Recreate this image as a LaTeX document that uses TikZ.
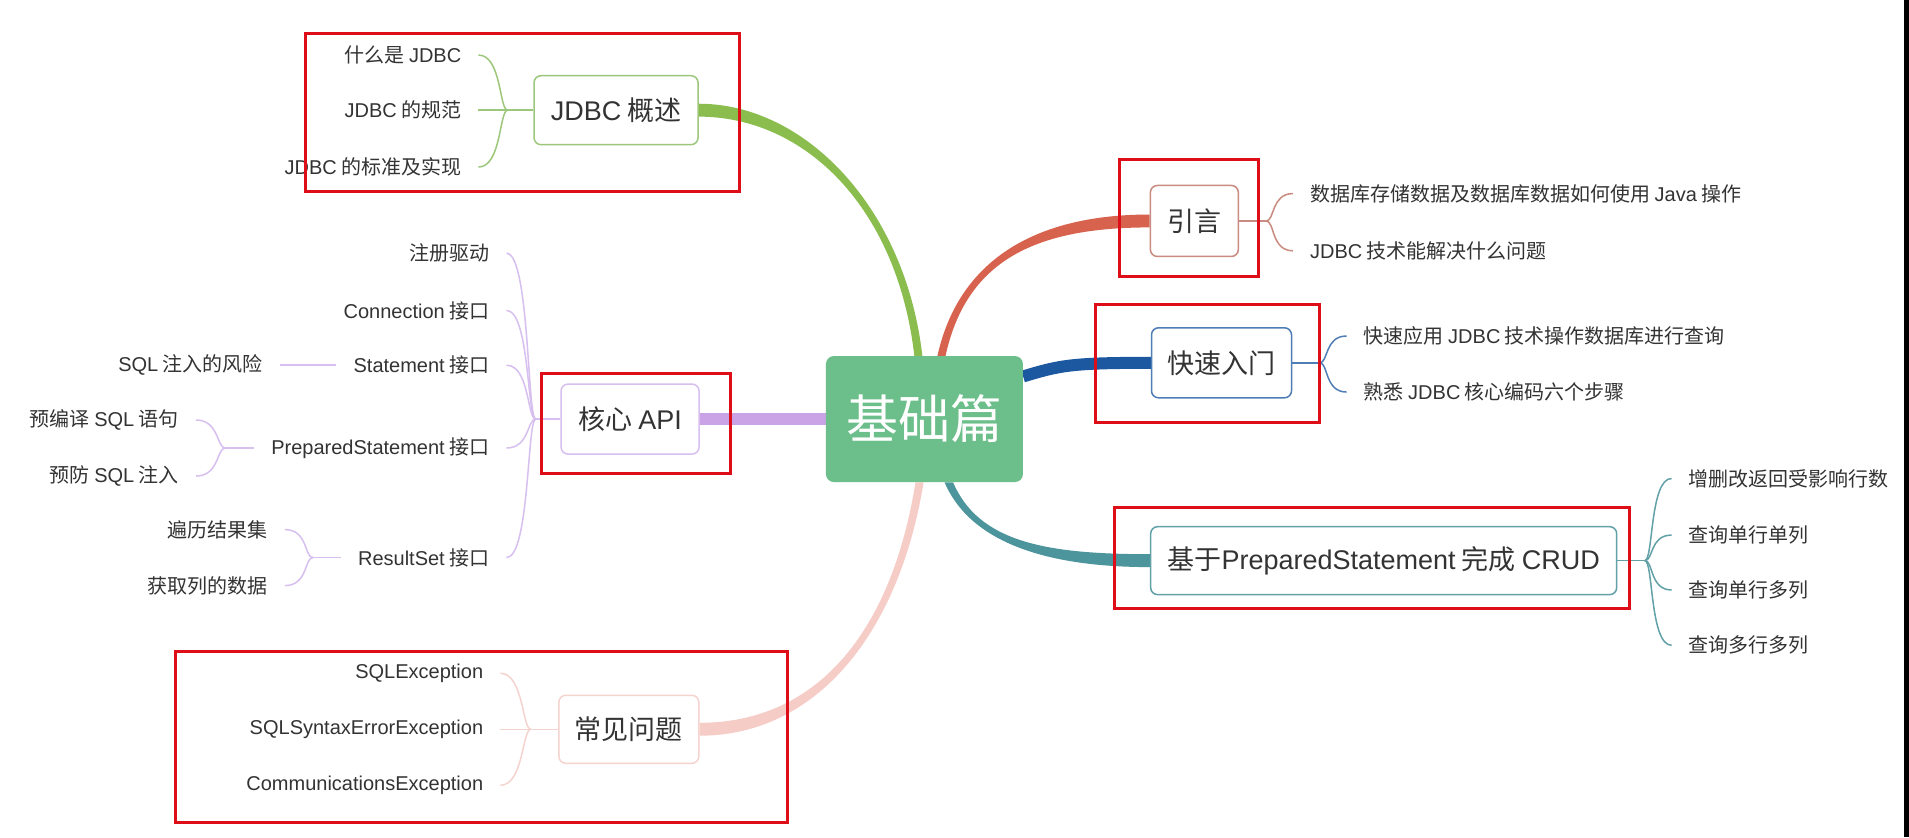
\documentclass[tikz,border=0pt]{standalone}
\usepackage{fontspec}
\setmainfont{Noto Sans CJK SC}
\newfontfamily\latf{Liberation Sans}
\newcommand\lt[1]{{\latf #1}}
\usetikzlibrary{calc,backgrounds}
\definecolor{ctext}{HTML}{333333}
\definecolor{croot}{HTML}{6CBF8A}
\definecolor{cgreen}{HTML}{8BBD4E}
\definecolor{cred}{HTML}{D7634E}
\definecolor{cblue}{HTML}{1C58A0}
\definecolor{cpurple}{HTML}{C9A3E6}
\definecolor{cteal}{HTML}{4C959C}
\definecolor{cpink}{HTML}{F6CCC7}
\definecolor{lgreen}{HTML}{9DC77A}
\definecolor{lpurple}{HTML}{D7C0EF}
\definecolor{lred}{HTML}{C98A80}
\definecolor{lblue}{HTML}{4F7DB5}
\definecolor{lteal}{HTML}{62A1A7}
\definecolor{lpink}{HTML}{F5D3CF}
\definecolor{cmarkred}{HTML}{DD0E17}
\begin{document}
\begin{tikzpicture}[x=1.21747pt,y=-1.21747pt,
  rootbox/.style={fill=croot, rounded corners=8pt, text=white, inner sep=0pt,
    font=\fontsize{52}{60}\selectfont, minimum width=197pt, minimum height=126pt},
  topic/.style={draw, line width=1.5pt, rounded corners=7pt, fill=white, text=ctext,
    inner sep=0pt, font=\fontsize{27}{32}\selectfont},
  leaf/.style={text=ctext, inner xsep=17pt, inner ysep=2pt, font=\fontsize{20}{24}\selectfont},
  thinline/.style={line width=1.5pt},
  branch/.style={line width=12pt},
  redbox/.style={draw=cmarkred, line width=3pt}
]
\useasboundingbox (0,0) rectangle (1568,687.5);

% ---------- topics ----------
\node[rootbox] (root) at (759.3,344.2) {基础篇};
\node[topic, draw=lgreen, minimum width=164pt, minimum height=69pt] (jdbc) at (506,90.5) {\lt{JDBC} 概述};
\node[topic, draw=lpurple, minimum width=138pt, minimum height=70pt] (api) at (517.5,344.2) {核心 \lt{API}};
\node[topic, draw=lpink, minimum width=140pt, minimum height=68pt] (qq) at (516.5,599) {常见问题};
\node[topic, draw=lred, minimum width=88pt, minimum height=71pt] (yy) at (981,181.5) {引言};
\node[topic, draw=lblue, minimum width=140pt, minimum height=70pt] (qk) at (1003.3,298) {快速入门};
\node[topic, draw=lteal, minimum width=466pt, minimum height=68pt] (crud) at (1136.5,460.5) {基于\lt{PreparedStatement} 完成 \lt{CRUD}};

% ---------- junctions ----------
\coordinate (jj) at (417,90.5);
\coordinate (ja) at (440,344.2);
\coordinate (jp) at (185,368);
\coordinate (jr) at (257,458);
\coordinate (jq) at (436,599);
\coordinate (jy) at (1040,181.5);
\coordinate (jk) at (1084,298);
\coordinate (jc) at (1351,460.5);

% ---------- leaves ----------
\node[leaf, anchor=east] (j1) at (393,45.2) {什么是 \lt{JDBC}};
\node[leaf, anchor=east] (j2) at (393,90.5) {\lt{JDBC} 的规范};
\node[leaf, anchor=east] (j3) at (393,137.2) {\lt{JDBC} 的标准及实现};

\node[leaf, anchor=east] (a1) at (416,208) {注册驱动};
\node[leaf, anchor=east] (a2) at (416,255) {\lt{Connection} 接口};
\node[leaf, anchor=east] (a3) at (416,300) {\lt{Statement} 接口};
\node[leaf, anchor=east] (a4) at (416,368) {\lt{PreparedStatement} 接口};
\node[leaf, anchor=east] (a5) at (416,458) {\lt{ResultSet} 接口};
\node[leaf, anchor=east] (s1) at (230,300) {\lt{SQL} 注入的风险};
\node[leaf, anchor=east] (p1) at (161,345) {预编译 \lt{SQL} 语句};
\node[leaf, anchor=east] (p2) at (161,391) {预防 \lt{SQL} 注入};
\node[leaf, anchor=east] (r1) at (234,435) {遍历结果集};
\node[leaf, anchor=east] (r2) at (234,481) {获取列的数据};

\node[leaf, anchor=east] (q1) at (411,553) {\lt{SQLException}};
\node[leaf, anchor=east] (q2) at (411,599) {\lt{SQLSyntaxErrorException}};
\node[leaf, anchor=east] (q3) at (411,645) {\lt{CommunicationsException}};

\node[leaf, anchor=west] (y1) at (1062,159) {数据库存储数据及数据库数据如何使用 \lt{Java} 操作};
\node[leaf, anchor=west] (y2) at (1062,206) {\lt{JDBC} 技术能解决什么问题};
\node[leaf, anchor=west] (k1) at (1106,276) {快速应用 \lt{JDBC} 技术操作数据库进行查询};
\node[leaf, anchor=west] (k2) at (1106,322) {熟悉 \lt{JDBC} 核心编码六个步骤};
\node[leaf, anchor=west] (c1) at (1373,393) {增删改返回受影响行数};
\node[leaf, anchor=west] (c2) at (1373,439.5) {查询单行单列};
\node[leaf, anchor=west] (c3) at (1373,484.6) {查询单行多列};
\node[leaf, anchor=west] (c4) at (1373,530) {查询多行多列};

% ---------- connectors (background) ----------
\begin{scope}[on background layer]
\fill[white] (0,0) rectangle (1568,687.5);
\fill[black] (1563.9,0) rectangle (1568,687.5);
% main branches (tapered: thick at the topic, thinner at the root)
\fill[cgreen] ($(jdbc.east)+(0,-5.3)$) .. controls +(87,0) and +(-14,-122) .. ($(root.north)+(-1.7,0)$)
  -- ($(root.north)+(-8.3,0)$) .. controls +(-14,-122) and +(87,0) .. ($(jdbc.east)+(0,5.3)$) -- cycle;
\fill[cred] ($(root.north)+(10.7,0)$) .. controls +(17,-77) and +(-96,0) .. ($(yy.west)+(0,-5.3)$)
  -- ($(yy.west)+(0,5.3)$) .. controls +(-96,0) and +(17,-77) .. ($(root.north)+(17.3,0)$) -- cycle;
\draw[branch, line width=12pt, cblue] ($(root.east)+(0,-35)$) .. controls +(30,-9) and +(-66,0) .. (qk.west);
\draw[branch, cpurple] (api.east) -- (root.west);
\fill[cteal] ($(root.south)+(16.5,0)$) .. controls +(21,49) and +(-86,0) .. ($(crud.west)+(0,5.3)$)
  -- ($(crud.west)+(0,-5.3)$) .. controls +(-86,0) and +(21,49) .. ($(root.south)+(23.5,0)$) -- cycle;
\fill[cpink] ($(root.south)+(-0.7,0)$) .. controls +(-20,124) and +(96,0) .. ($(qq.east)+(0,5.3)$)
  -- ($(qq.east)+(0,-5.3)$) .. controls +(96,0) and +(-20,124) .. ($(root.south)+(-7.3,0)$) -- cycle;
% JDBC
\draw[thinline, lgreen] (jdbc.west) -- (jj);
\foreach \n in {j1,j2,j3} \draw[thinline, lgreen] (jj) .. controls +(-7,0) and +(19,0) .. (\n.east);
% API
\draw[thinline, lpurple] (api.west) -- (ja);
\foreach \n in {a1,a2,a3,a4,a5} \draw[thinline, lpurple] (ja) .. controls +(-7,0) and +(19,0) .. (\n.east);
\draw[thinline, lpurple] (a3.west) -- (s1.east);
\draw[thinline, lpurple] (a4.west) -- (jp);
\foreach \n in {p1,p2} \draw[thinline, lpurple] (jp) .. controls +(-7,0) and +(19,0) .. (\n.east);
\draw[thinline, lpurple] (a5.west) -- (jr);
\foreach \n in {r1,r2} \draw[thinline, lpurple] (jr) .. controls +(-7,0) and +(19,0) .. (\n.east);
% common problems
\draw[thinline, lpink] (qq.west) -- (jq);
\foreach \n in {q1,q2,q3} \draw[thinline, lpink] (jq) .. controls +(-7,0) and +(19,0) .. (\n.east);
% intro
\draw[thinline, lred] (yy.east) -- (jy);
\foreach \n in {y1,y2} \draw[thinline, lred] (jy) .. controls +(7,0) and +(-18,0) .. (\n.west);
% quick start
\draw[thinline, lblue] (qk.east) -- (jk);
\foreach \n in {k1,k2} \draw[thinline, lblue] (jk) .. controls +(7,0) and +(-18,0) .. (\n.west);
% crud
\draw[thinline, lteal] (crud.east) -- (jc);
\foreach \n in {c1,c2,c3,c4} \draw[thinline, lteal] (jc) .. controls +(7,0) and +(-18,0) .. (\n.west);
\end{scope}

% ---------- red annotation boxes ----------
\draw[redbox] (251.3,27.9) rectangle (607.8,157.7);
\draw[redbox] (919.7,130.9) rectangle (1033.3,227.2);
\draw[redbox] (900,249.7) rectangle (1084,347.2);
\draw[redbox] (445,306.4) rectangle (599.6,389.3);
\draw[redbox] (915,416.6) rectangle (1338,500);
\draw[redbox] (144.3,535) rectangle (646.5,675.7);
\end{tikzpicture}
\end{document}
